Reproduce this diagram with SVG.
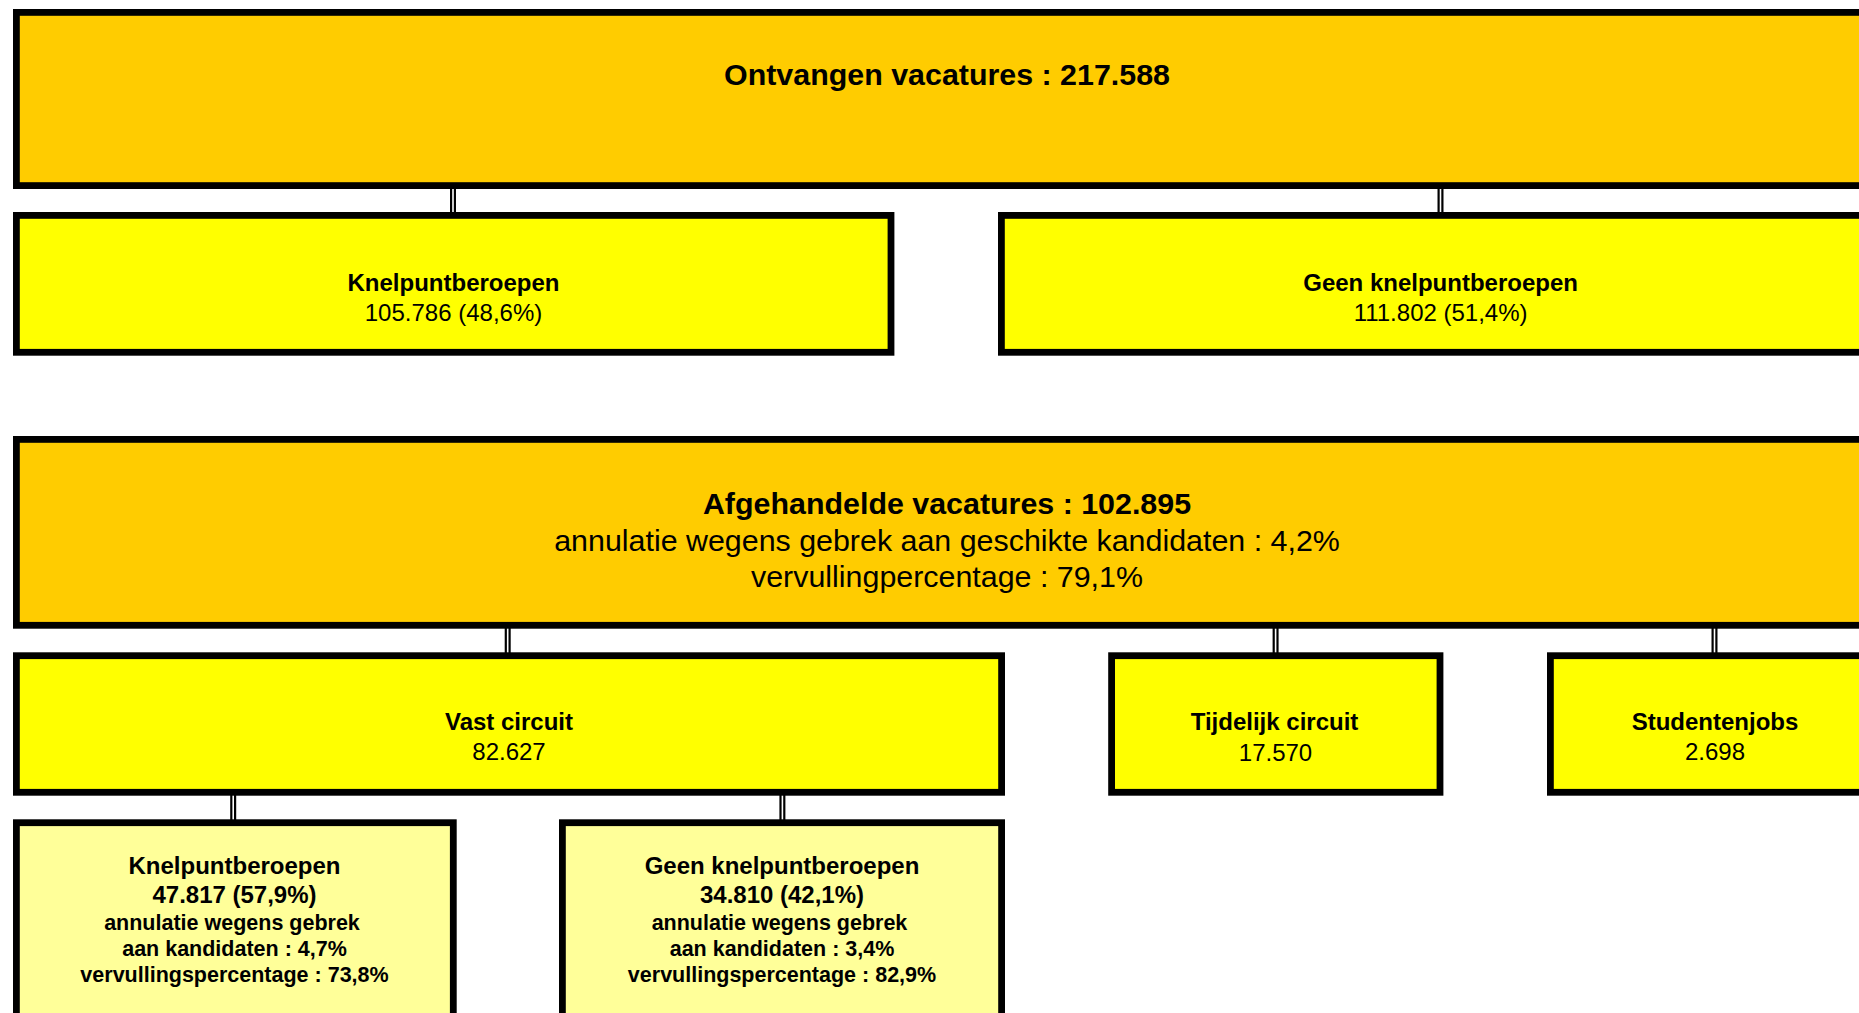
<svg xmlns="http://www.w3.org/2000/svg" width="1859" height="1013" viewBox="0 0 1859 1013">
<style>
.box{stroke:#000;stroke-width:6.8}
.orange{fill:#FFCC00}
.yellow{fill:#FFFF00}
.light{fill:#FFFF99}
.conn line{stroke:#000;stroke-width:2.2}
text{font-family:"Liberation Sans",Arial,sans-serif;fill:#000;text-anchor:middle}
.b{font-weight:bold}
.t30{font-size:30.4px}
.t24{font-size:24px}
.t21{font-size:21.5px}
</style>
<rect x="0" y="0" width="1859" height="1013" fill="#fff"/>
<g id="connectors" class="conn">
  <line x1="451.1" y1="186" x2="451.1" y2="215"/><line x1="454.9" y1="186" x2="454.9" y2="215"/>
  <line x1="1438.6" y1="186" x2="1438.6" y2="215"/><line x1="1442.4" y1="186" x2="1442.4" y2="215"/>
  <line x1="505.8" y1="625" x2="505.8" y2="656"/><line x1="509.6" y1="625" x2="509.6" y2="656"/>
  <line x1="1273.7" y1="625" x2="1273.7" y2="656"/><line x1="1277.5" y1="625" x2="1277.5" y2="656"/>
  <line x1="1712.6" y1="625" x2="1712.6" y2="656"/><line x1="1716.4" y1="625" x2="1716.4" y2="656"/>
  <line x1="231.3" y1="792" x2="231.3" y2="823"/><line x1="235.1" y1="792" x2="235.1" y2="823"/>
  <line x1="780.5" y1="792" x2="780.5" y2="823"/><line x1="784.3" y1="792" x2="784.3" y2="823"/>
</g>
<g id="ontvangen">
  <rect class="box orange" x="16.4" y="12.4" width="1862.2" height="173.2"/>
  <text class="b t30" x="947" y="85">Ontvangen vacatures : 217.588</text>
</g>
<g id="knelpunt1">
  <rect class="box yellow" x="16.4" y="215.4" width="874.6" height="136.9"/>
  <text class="b t24" x="453.5" y="290.7">Knelpuntberoepen</text>
  <text class="t24" x="453.5" y="320.7">105.786 (48,6%)</text>
</g>
<g id="geenknelpunt1">
  <rect class="box yellow" x="1001.4" y="215.4" width="877.2" height="136.9"/>
  <text class="b t24" x="1440.6" y="290.7">Geen knelpuntberoepen</text>
  <text class="t24" x="1440.6" y="320.7">111.802 (51,4%)</text>
</g>
<g id="afgehandelde">
  <rect class="box orange" x="16.4" y="439.4" width="1862.2" height="185.9"/>
  <text class="b t30" x="947" y="514">Afgehandelde vacatures : 102.895</text>
  <text class="t30" x="947" y="550.5">annulatie wegens gebrek aan geschikte kandidaten : 4,2%</text>
  <text class="t30" x="947" y="587">vervullingpercentage : 79,1%</text>
</g>
<g id="vast">
  <rect class="box yellow" x="16.4" y="655.7" width="985.2" height="136.6"/>
  <text class="b t24" x="509" y="730">Vast circuit</text>
  <text class="t24" x="509" y="760">82.627</text>
</g>
<g id="tijdelijk">
  <rect class="box yellow" x="1111.6" y="655.7" width="328.4" height="136.6"/>
  <text class="b t24" x="1274.5" y="730">Tijdelijk circuit</text>
  <text class="t24" x="1275.5" y="760.5">17.570</text>
</g>
<g id="studentenjobs">
  <rect class="box yellow" x="1550.4" y="655.7" width="328.2" height="136.6"/>
  <text class="b t24" x="1715" y="730">Studentenjobs</text>
  <text class="t24" x="1715" y="760">2.698</text>
</g>
<g id="knelpunt2">
  <rect class="box light" x="16.4" y="822.7" width="436.9" height="260"/>
  <text class="b t24" x="234.5" y="874">Knelpuntberoepen</text>
  <text class="b t24" x="234.5" y="903">47.817 (57,9%)</text>
  <text class="b t21" x="232" y="930">annulatie wegens gebrek</text>
  <text class="b t21" x="234.5" y="955.5">aan kandidaten : 4,7%</text>
  <text class="b t21" x="234.5" y="981.7">vervullingspercentage : 73,8%</text>
</g>
<g id="geenknelpunt2">
  <rect class="box light" x="562.4" y="822.7" width="439.2" height="260"/>
  <text class="b t24" x="782" y="874">Geen knelpuntberoepen</text>
  <text class="b t24" x="782" y="903">34.810 (42,1%)</text>
  <text class="b t21" x="779.5" y="930">annulatie wegens gebrek</text>
  <text class="b t21" x="782" y="955.5">aan kandidaten : 3,4%</text>
  <text class="b t21" x="782" y="981.7">vervullingspercentage : 82,9%</text>
</g>
</svg>
